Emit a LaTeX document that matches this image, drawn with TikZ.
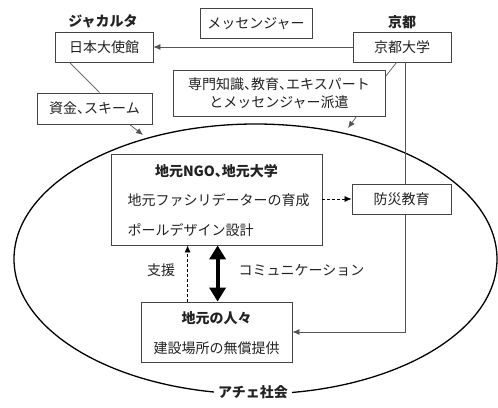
\documentclass[tikz,border=0pt]{standalone}
\usepackage{fontspec}
\setmainfont{Noto Sans CJK JP}
\newcommand{\tten}{{\addfontfeature{RawFeature=+halt}、}}
\usetikzlibrary{arrows.meta,calc}
\definecolor{boxc}{HTML}{444444}
\definecolor{linec}{HTML}{555555}
\definecolor{txt}{HTML}{222222}
\begin{document}
\begin{tikzpicture}[x=1pt,y=-1pt,
  every node/.style={text=txt, font=\fontsize{14}{18}\selectfont},
  box/.style={draw=boxc, line width=0.8pt, fill=white, inner sep=0pt, align=center},
  ttl/.style={font=\fontsize{14}{18}\selectfont\bfseries},
  conn/.style={draw=linec, line width=0.7pt},
  arr/.style={conn, -{Latex[length=7pt,width=6pt]}},
  dasharr/.style={draw=black, line width=0.7pt, dash pattern=on 3pt off 2pt, -{Latex[length=7pt,width=6pt]}},
  bigarr/.style={draw=black, line width=4pt, {Triangle[length=14pt,width=16pt]}-{Triangle[length=14pt,width=16pt]}}
]
\useasboundingbox (0,0) rectangle (498,407);

% ellipse
\draw[line width=1.3pt] (255.5,259) ellipse [x radius=241.5, y radius=135];
\node[ttl, fill=white, inner xsep=4pt, inner ysep=1pt] (aceh) at (253,392) {アチェ社会};

% headings
\node[ttl] (jkt) at (103,21) {ジャカルタ};
\node[ttl] (kyo) at (402,22) {京都};

% top boxes
\node[box, minimum width=98pt, minimum height=30pt] (emb) at (104,47) {日本大使館};
\node[box, minimum width=112pt, minimum height=30pt] (msg) at (256,23.5) {メッセンジャー};
\node[box, minimum width=98pt, minimum height=30pt] (kyu) at (402,47) {京都大学};
\node[box, minimum width=212pt, minimum height=46pt] (exp) at (279,93) {専門知識\tten 教育\tten エキスパート\\とメッセンジャー派遣};
\node[box, minimum width=115pt, minimum height=31pt] (fund) at (94.5,108.5) {資金\tten スキーム};

% inner boxes
\node[box, minimum width=211pt, minimum height=91pt] (ngo) at (216.5,199.5) {};
\node[ttl] (ngot) at (216.5,171) {地元NGO\tten 地元大学};
\node[anchor=west] (ngo1) at (124,200) {地元ファシリデーターの育成};
\node[anchor=west] (ngo2) at (124,230) {ポールデザイン設計};

\node[box, minimum width=151pt, minimum height=60pt] (ppl) at (216.5,332) {};
\node[ttl] (pplt) at (216.5,318) {地元の人々};
\node (ppl1) at (216.5,348) {建設場所の無償提供};

% coordinates on ellipse
\coordinate (e1) at (143,135);
\coordinate (e2) at (348,128);
\coordinate (corner) at (406,332);

% vertical line from Kyoto (drawn before disaster box)
\draw[arr] ($(kyu.south west)+(53,0)$) |- (ppl.east |- corner);

\node[box, minimum width=99pt, minimum height=30pt] (bousai) at (401.5,199) {防災教育};

% connectors
\draw[arr] (kyu.west) -- (emb.east);
\draw[conn] ($(emb.south west)+(15,0)$) -- ($(fund.north west)+(63,0)$);
\draw[arr] ($(fund.south west)+(93,0)$) -- (e1);
\draw[conn] ($(kyu.south west)+(44,0)$) -- ($(exp.north east)+(0,7)$);
\draw[arr] ($(exp.south west)+(184,0)$) -- (e2);
\draw[dasharr] (ngo.east |- bousai.west) -- (bousai.west);
\draw[bigarr] ($(ngo.south west)+(107,0)$) -- ($(ppl.north west)+(77,0)$);
\draw[dasharr] ($(ppl.north west)+(47,0)$) -- ($(ngo.south west)+(77,0)$);

% labels
\node (shien) at (161,270) {支援};
\node[anchor=west] (comm) at (235,270) {コミュニケーション};
\end{tikzpicture}
\end{document}
